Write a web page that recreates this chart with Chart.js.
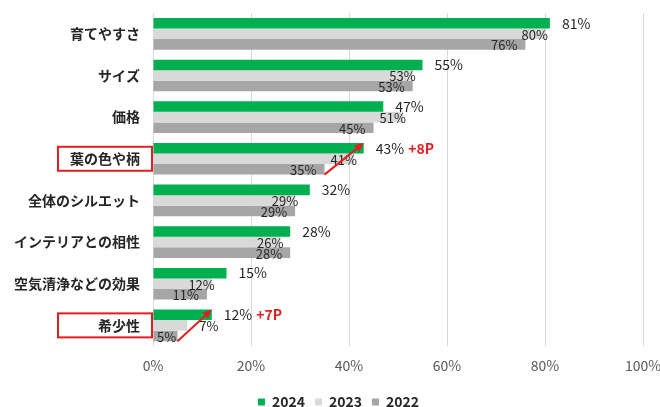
<!DOCTYPE html>
<html>
<head>
<meta charset="utf-8">
<script src="https://cdn.jsdelivr.net/npm/chart.js@4.4.0/dist/chart.umd.min.js"></script>
<style>
  html, body { margin: 0; padding: 0; background: #fff; }
  #wrap { width: 660px; height: 407px; }
</style>
</head>
<body>
<div id="wrap"><canvas id="chart"></canvas></div>
<script>
const categories = ['育てやすさ', 'サイズ', '価格', '葉の色や柄', '全体のシルエット', 'インテリアとの相性', '空気清浄などの効果', '希少性'];
const years = ['2024', '2023', '2022'];
const values2024 = [81, 55, 47, 43, 32, 28, 15, 12];
const values2023 = [80, 53, 51, 41, 29, 26, 12, 7];
const values2022 = [76, 53, 45, 35, 29, 28, 11, 5];
const xTicks = [0, 20, 40, 60, 80, 100];
const highlighted = ['葉の色や柄', '希少性'];

const FONT = '"Noto Sans CJK JP", "Noto Sans", sans-serif';
const RED = '#e02020';

// Arrow from the 2022 bar end to the 2024 bar end
function drawArrow(ctx, x1, y1, x2, y2) {
    const ang = Math.atan2(y2 - y1, x2 - x1);
    const len = 9, half = 4;
    ctx.save();
    ctx.strokeStyle = RED;
    ctx.fillStyle = RED;
    ctx.lineWidth = 2;
    ctx.beginPath();
    ctx.moveTo(x1, y1);
    ctx.lineTo(x2 - Math.cos(ang) * len, y2 - Math.sin(ang) * len);
    ctx.stroke();
    ctx.beginPath();
    ctx.moveTo(x2, y2);
    ctx.lineTo(x2 - Math.cos(ang) * len - Math.sin(ang) * half, y2 - Math.sin(ang) * len + Math.cos(ang) * half);
    ctx.lineTo(x2 - Math.cos(ang) * len + Math.sin(ang) * half, y2 - Math.sin(ang) * len - Math.cos(ang) * half);
    ctx.closePath();
    ctx.fill();
    ctx.restore();
}

// keep the scales from adding their own outer padding
function noPadding(scale) {
    scale.paddingTop = 0;
    scale.paddingBottom = 0;
    scale.paddingLeft = 0;
    scale.paddingRight = 0;
}

const annotationPlugin = {
    id: 'annotations',
    afterLayout(chart) {
        // centre the legend a little right of the canvas middle, like the original
        if (chart.legend) {
            chart.legend.left += 17;
            chart.legend.right += 17;
        }
    },
    afterDatasetsDraw(chart) {
        const ctx = chart.ctx;
        const m24 = chart.getDatasetMeta(0);
        const m23 = chart.getDatasetMeta(1);
        const m22 = chart.getDatasetMeta(2);
        const minX = chart.chartArea.left + 4;

        ctx.save();
        ctx.textBaseline = 'middle';
        ctx.fillStyle = '#262626';

        // 2022 labels, inside end (kept inside the plot for short bars)
        ctx.font = '13px ' + FONT;
        ctx.textAlign = 'left';
        m22.data.forEach((el, i) => {
            const txt = values2022[i] + '%';
            const w = ctx.measureText(txt).width;
            ctx.fillText(txt, Math.max(minX, el.x - 8 - w), el.y + 1);
        });

        // 2023 labels, at the end (outside when the bar is short)
        m23.data.forEach((el, i) => {
            if (values2023[i] < 10) {
                ctx.textAlign = 'left';
                ctx.fillText(values2023[i] + '%', el.x + 12, el.y + 1);
            } else {
                ctx.textAlign = 'right';
                ctx.fillText(values2023[i] + '%', el.x + 3, el.y + 1);
            }
        });

        // arrows for highlighted items
        highlighted.forEach(name => {
            const i = categories.indexOf(name);
            const a = m22.data[i], b = m24.data[i];
            drawArrow(ctx, a.x, a.y + a.height / 2, b.x, b.y - b.height / 2);
        });

        // 2024 labels, outside end
        ctx.textAlign = 'left';
        m24.data.forEach((el, i) => {
            const txt = values2024[i] + '%';
            ctx.fillStyle = '#262626';
            ctx.font = '14px ' + FONT;
            ctx.fillText(txt, el.x + 12, el.y);
            if (highlighted.includes(categories[i])) {
                const w = ctx.measureText(txt).width;
                ctx.fillStyle = RED;
                ctx.font = 'bold 14px ' + FONT;
                ctx.fillText('+' + (values2024[i] - values2022[i]) + 'P', el.x + 12 + w + 4, el.y);
            }
        });
        ctx.restore();
    },
    afterDraw(chart) {
        // red boxes round the highlighted category labels
        const ctx = chart.ctx;
        const yScale = chart.scales.y;
        const right = chart.chartArea.left - 1;
        ctx.save();
        ctx.strokeStyle = RED;
        ctx.lineWidth = 2;
        highlighted.forEach(name => {
            const cy = yScale.getPixelForValue(categories.indexOf(name));
            ctx.strokeRect(right - 94, cy - 12, 94, 24);
        });
        ctx.restore();
    }
};

const ctx = document.getElementById('chart').getContext('2d');
new Chart(ctx, {
    type: 'bar',
    data: {
        labels: categories,
        datasets: [
            { label: years[0], data: values2024, backgroundColor: '#00b050' },
            { label: years[1], data: values2023, backgroundColor: '#d9d9d9' },
            { label: years[2], data: values2022, backgroundColor: '#a6a6a6' }
        ]
    },
    options: {
        indexAxis: 'y',
        responsive: true,
        maintainAspectRatio: false,
        animation: false,
        layout: { padding: { top: 13, right: 17, bottom: -12, left: 0 } },
        datasets: {
            bar: { categoryPercentage: 0.76, barPercentage: 1.0, borderWidth: 0 }
        },
        plugins: {
            tooltip: { enabled: false },
            legend: {
                position: 'bottom',
                labels: {
                    boxWidth: 7,
                    boxHeight: 7,
                    padding: 10,
                    color: '#262626',
                    font: { family: FONT, size: 14, weight: 'bold' }
                }
            }
        },
        scales: {
            x: {
                min: 0,
                max: 100,
                afterBuildTicks: (scale) => { scale.ticks = xTicks.map(v => ({ value: v })); },
                afterFit: noPadding,
                ticks: {
                    callback: v => v + '%',
                    color: '#595959',
                    padding: 11,
                    font: { family: FONT, size: 14 }
                },
                grid: { color: '#d9d9d9', drawTicks: false },
                border: { display: false }
            },
            y: {
                afterFit: (scale) => { scale.width = 153; noPadding(scale); },
                ticks: {
                    color: '#262626',
                    padding: 13,
                    font: { family: FONT, size: 14, weight: 'bold' }
                },
                grid: { display: false, drawTicks: false },
                border: { display: false }
            }
        }
    },
    plugins: [annotationPlugin]
});
</script>
</body>
</html>
